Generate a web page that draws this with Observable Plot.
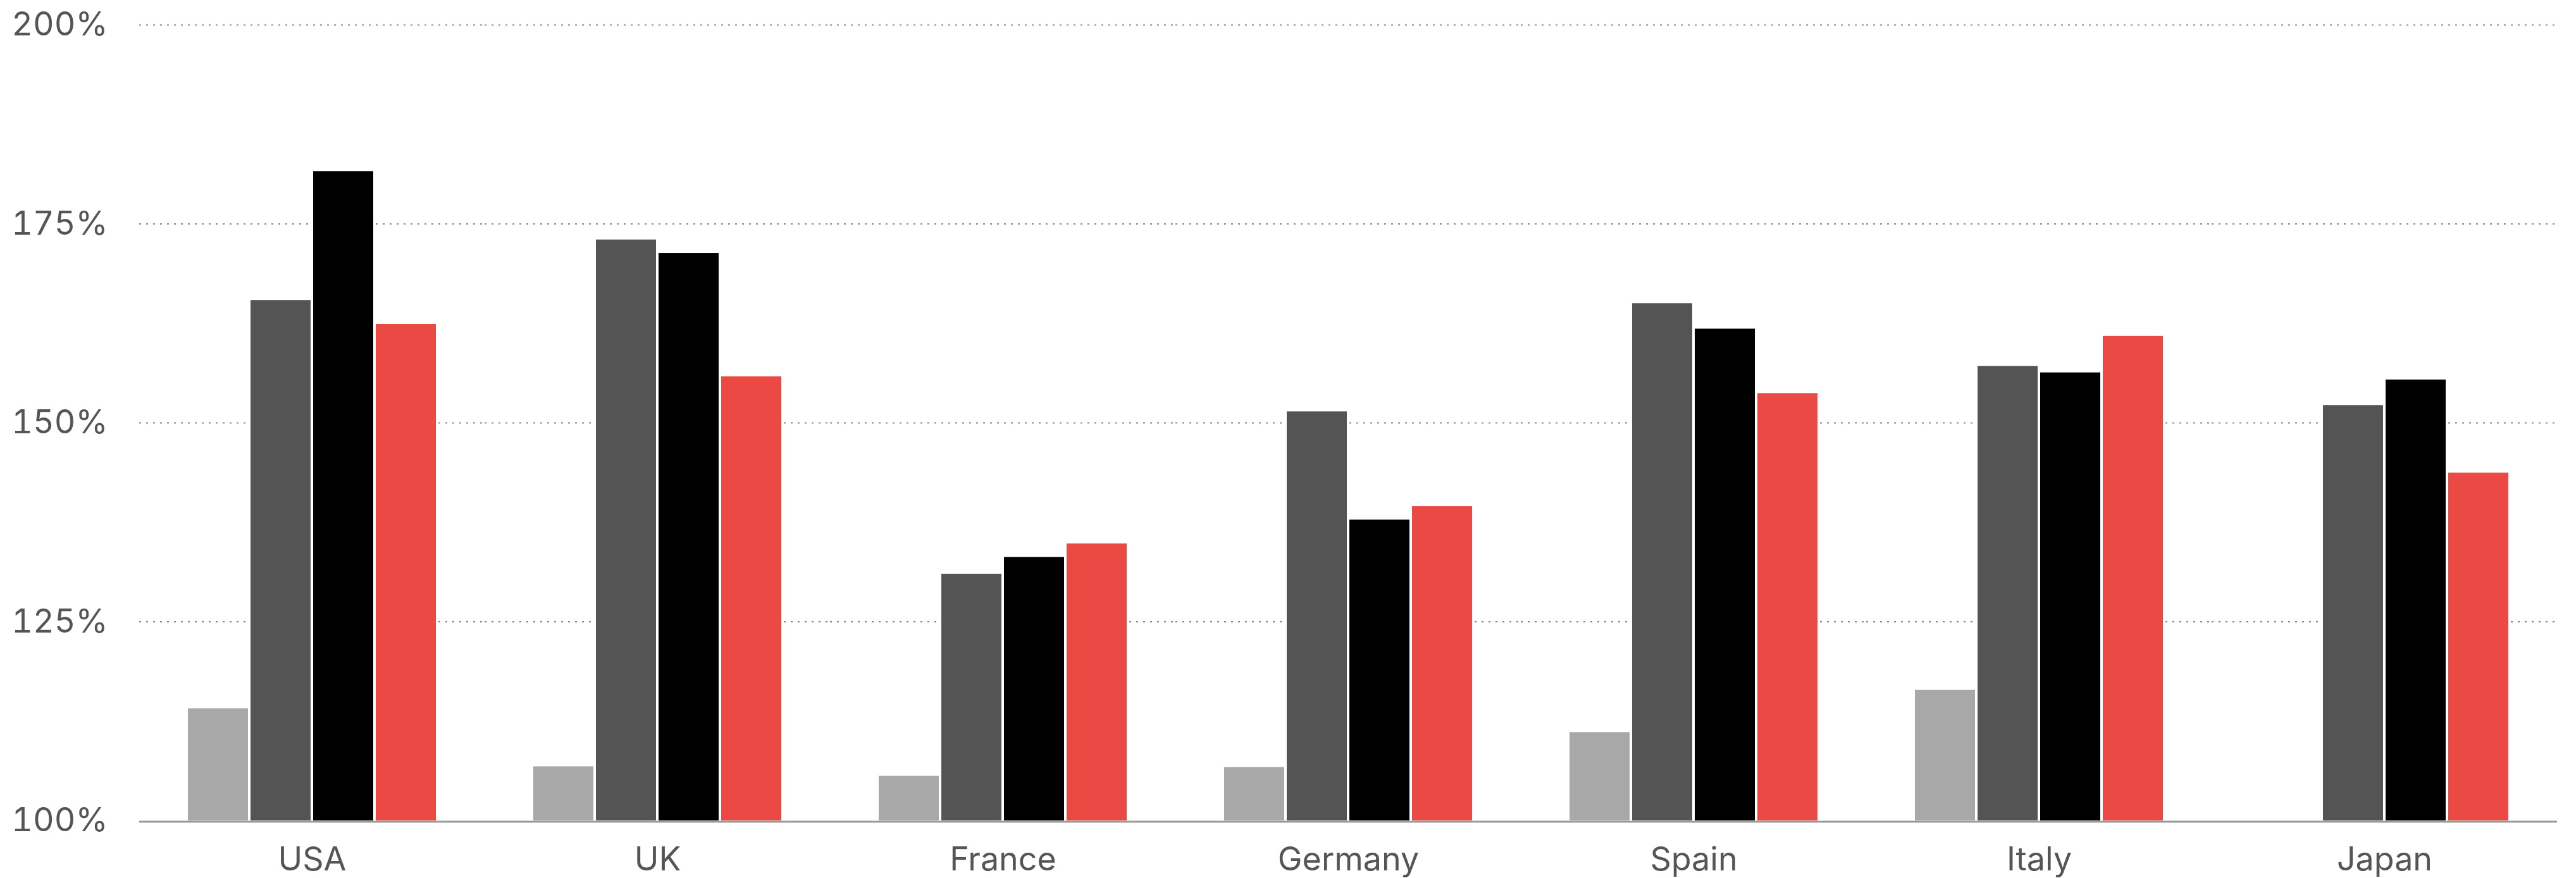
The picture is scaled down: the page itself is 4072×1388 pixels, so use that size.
<!DOCTYPE html>
<html>
<head>
<meta charset="utf-8">
<script src="https://cdn.jsdelivr.net/npm/d3@7"></script>
<script src="https://cdn.jsdelivr.net/npm/@observablehq/plot@0.6"></script>
<style>
  html, body { margin: 0; padding: 0; background: #ffffff; }
  #chart svg { display: block; }
</style>
</head>
<body>
<div id="chart"></div>
<script>
// Countries along the bottom, in display order
const countries = ["USA", "UK", "France", "Germany", "Spain", "Italy", "Japan"];

// Four series per country (percent); Japan has no value in the first series
const seriesKeys = ["s1", "s2", "s3", "s4"];
const s1 = [114.1, 106.8, 105.6, 106.7, 111.1, 116.4, null];
const s2 = [165.4, 173.0, 131.0, 151.4, 165.0, 157.1, 152.2];
const s3 = [181.6, 171.3, 133.1, 137.8, 161.8, 156.3, 155.4];
const s4 = [162.4, 155.8, 134.8, 139.5, 153.7, 160.9, 143.7];
const seriesColors = ["#a8a8a8", "#545454", "#000000", "#ea4a43"];

// y-axis ticks
const yTicks = [100, 125, 150, 175, 200];

const seriesValues = [s1, s2, s3, s4];
const rows = [];
countries.forEach((country, i) => {
  seriesKeys.forEach((key, j) => {
    const v = seriesValues[j][i];
    if (v != null) rows.push({country, series: key, value: v});
  });
});

// Facets touch each other so grid lines run unbroken across the chart;
// the spacing between country groups comes from the inner x scale's outer padding.
const chart = Plot.plot({
  width: 4072,
  height: 1388,
  marginTop: 39,
  marginBottom: 91,
  marginLeft: 218,
  marginRight: 29,
  style: {
    fontFamily: "Inter, 'Noto Sans', sans-serif",
    fontSize: "52px",
    color: "#555555",
    background: "#ffffff"
  },
  fx: {
    domain: countries,
    padding: 0,
    axis: "bottom",
    tickSize: 0,
    tickPadding: 42,
    label: null
  },
  x: {
    domain: seriesKeys,
    paddingInner: 0.04,
    paddingOuter: 0.766,
    axis: null
  },
  y: {
    domain: [100, 200],
    ticks: yTicks,
    tickFormat: d => d + "%",
    tickSize: 0,
    tickPadding: 50,
    label: null
  },
  color: {
    domain: seriesKeys,
    range: seriesColors
  },
  marks: [
    Plot.gridY(yTicks.filter(t => t > 100), {
      stroke: "#888888",
      strokeOpacity: 1,
      strokeWidth: 2,
      strokeDasharray: "3,8"
    }),
    Plot.barY(rows, {
      fx: "country",
      x: "series",
      y1: 100,
      y2: "value",
      fill: "series"
    }),
    Plot.ruleY([100], {stroke: "#9a9a9a", strokeWidth: 3, dy: 1.5})
  ]
});

document.getElementById("chart").appendChild(chart);
</script>
</body>
</html>
